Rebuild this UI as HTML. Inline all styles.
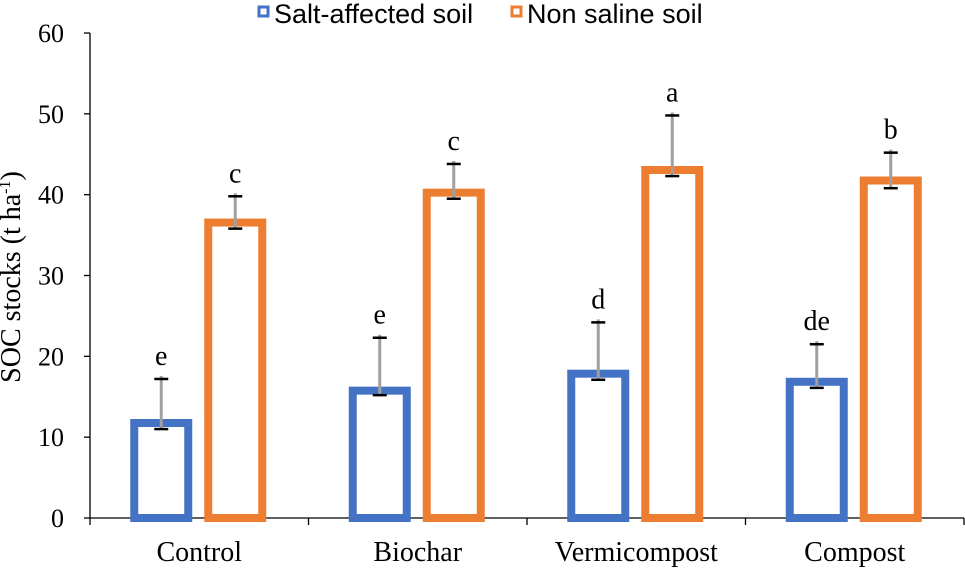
<!DOCTYPE html>
<html><head><meta charset="utf-8"><style>
body{margin:0;background:#fff;width:965px;height:568px;overflow:hidden;font-family:"Liberation Serif",serif}
</style></head><body>
<svg id="chart" width="965" height="568" xmlns="http://www.w3.org/2000/svg"></svg>
<script>
const categories=["Control","Biochar","Vermicompost","Compost"];
const saltValues=[12.0,16.0,18.1,17.1];
const nonSalineValues=[36.8,40.5,43.3,42.0];
const saltUpper=[17.2,22.3,24.2,21.5];
const saltLower=[11.0,15.2,17.1,16.1];
const nonUpper=[39.8,43.8,49.8,45.2];
const nonLower=[35.8,39.5,42.3,40.8];
const saltLetters=["e","e","d","de"];
const nonLetters=["c","c","a","b"];
const yTicks=[0,10,20,30,40,50,60];

const svg=document.getElementById('chart');
const NS="http://www.w3.org/2000/svg";
const x0=90,groupW=218.5,y0=518,yScale=80.83;
const y=v=>y0-v*yScale/10;
function mk(tag,attrs,parent){const e=document.createElementNS(NS,tag);for(const k in attrs)e.setAttribute(k,attrs[k]);(parent||svg).appendChild(e);return e;}

const ax=mk('line',{x1:x0,y1:y(60),x2:x0,y2:y0,stroke:'#000','stroke-width':1.3});


const xa=mk('line',{x1:x0,y1:y0,x2:964,y2:y0,stroke:'#000','stroke-width':1.3});


yTicks.forEach(t=>{
  const tl=mk('line',{x1:x0-6,y1:y(t),x2:x0,y2:y(t),stroke:'#000','stroke-width':1.3});
  
  
  const tx=mk('text',{x:x0-26,y:y(t)+9,'text-anchor':'end','font-size':26});
  tx.textContent=t;
  
  
});
for(let i=0;i<=categories.length;i++){
  const tl=mk('line',{x1:x0+i*groupW,y1:y0,x2:x0+i*groupW,y2:y0+7,stroke:'#000','stroke-width':1.3});
  
  
}
const yt=mk('text',{x:0,y:0,'text-anchor':'middle','font-size':28,transform:'translate(20,277) rotate(-90)'});
yt.innerHTML='SOC stocks (t ha<tspan dy="-10" font-size="16">-1</tspan><tspan dy="10">)</tspan>';



function bar(cx,v,lo,hi,color,letter,name){
  const b=mk('rect',{x:cx-27,y:y(v)+2,width:54,height:y0-y(v)-2,fill:'none',stroke:color,'stroke-width':8});
  
  
  const g=mk('line',{x1:cx,y1:y(hi)-3,x2:cx,y2:y(lo),stroke:'#a0a0a0','stroke-width':3});
  
  
  [hi,lo].forEach(val=>{
    const c=mk('line',{x1:cx-7,y1:y(val),x2:cx+7,y2:y(val),stroke:'#000','stroke-width':2.5});
    
    
  });
  const t=mk('text',{x:cx,y:y(hi)-14,'text-anchor':'middle','font-size':28});
  t.textContent=letter;
  
  
}
categories.forEach((c,i)=>{
  const gc=x0+groupW*(i+0.5);
  bar(gc-38,saltValues[i],saltLower[i],saltUpper[i],'#4472c4',saltLetters[i],'bar-salt-'+c.toLowerCase());
  bar(gc+36,nonSalineValues[i],nonLower[i],nonUpper[i],'#ed7d31',nonLetters[i],'bar-nonsaline-'+c.toLowerCase());
  const t=mk('text',{x:gc,y:561,'text-anchor':'middle','font-size':28});
  t.textContent=c;
  
  
});
[[259,'#4472c4','Salt-affected soil'],[512,'#ed7d31','Non saline soil']].forEach(([lx,col,lab])=>{
  const r=mk('rect',{x:lx,y:7,width:9,height:9,fill:'none',stroke:col,'stroke-width':3});
  
  
  const t=mk('text',{x:lx+15,y:23,'font-size':27,'font-family':'Liberation Sans, sans-serif'});
  t.textContent=lab;
  
  
});
</script>
</body></html>
